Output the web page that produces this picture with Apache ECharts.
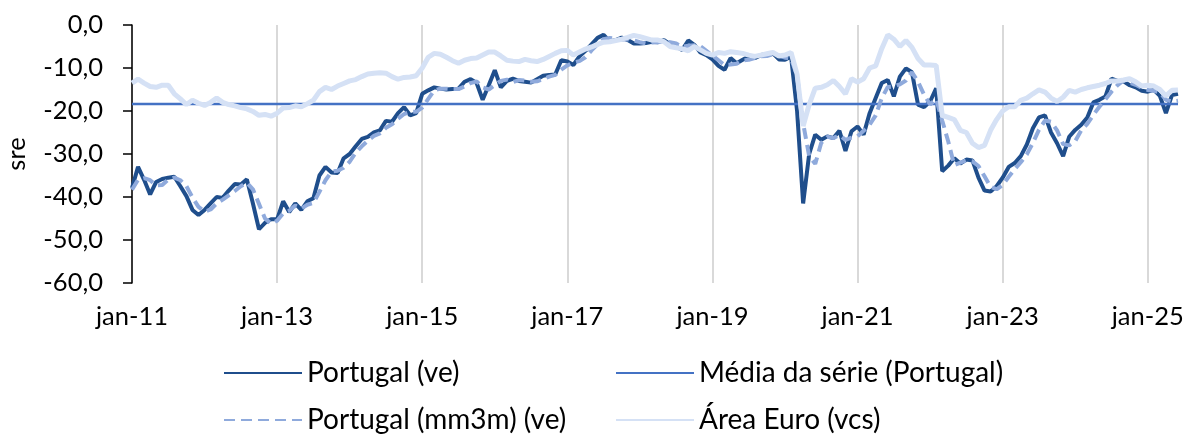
<!DOCTYPE html>
<html>
<head>
<meta charset="utf-8">
<script src="https://cdn.jsdelivr.net/npm/echarts@6/dist/echarts.min.js"></script>
<style>
  html, body { margin: 0; padding: 0; background: #fff; }
  #main { width: 1189px; height: 434px; }
</style>
</head>
<body>
<div id="main"></div>
<script>
// meses jan-11 .. jun-25
var monthNames = ['jan', 'fev', 'mar', 'abr', 'mai', 'jun', 'jul', 'ago', 'set', 'out', 'nov', 'dez'];
var firstYear = 2011;
var nMonths = 174;

// Portugal (ve)
var portugal = [
  -37.9, -33, -36, -39.4, -36.5, -35.8, -35.5, -35.3, -37.5, -39.8, -43, -44.2,
  -43, -41.5, -40, -40.2, -38.5, -37, -37.1, -35.9, -41.5, -47.5, -46, -45.2,
  -45.2, -41, -43.5, -41.5, -43, -41, -40.3, -35, -33, -34.3, -34.4, -31,
  -30, -28.2, -26.5, -26, -25, -24.5, -22.3, -22.5, -20.5, -19.1, -21, -20.5,
  -16, -15.2, -14.5, -14.8, -15, -14.9, -14.8, -13.2, -12.6, -13.5, -17.4, -14,
  -10.5, -14.5, -13, -12.5, -13, -13.2, -13.4, -12.6, -11.8, -11.6, -11.5, -8.2,
  -8.5, -9.3, -7.3, -6, -4.5, -3, -2.3, -3.8, -3.5, -2.9, -3.5, -4.3,
  -4.3, -4.2, -3.9, -4, -3.5, -4.5, -5, -5.8, -3.6, -4.6, -6.4, -7,
  -8, -9.5, -10.4, -7.7, -8.9, -8.1, -7.3, -7.7, -7, -6.8, -6.6, -8,
  -8.1, -7.3, -20, -41.5, -30, -25.5, -26.7, -25.9, -26.3, -24.6, -29.3, -24.7,
  -23.6, -25.5, -20.5, -17, -13.5, -12.8, -16.6, -12, -10.1, -11, -18.5, -19.1,
  -17.8, -14.7, -34, -32.7, -31, -32.2, -31.3, -31.5, -35.5, -38.5, -38.7, -37.5,
  -35.5, -33, -32.1, -30.5, -27.8, -24, -21.5, -21, -25, -27.5, -30.5, -26,
  -24.4, -23.2, -21.5, -18, -17.4, -16.6, -12.5, -13, -13.1, -14, -14.5, -15.3,
  -15.5, -15.1, -16.5, -20.5, -16.3, -16
];

// Portugal (mm3m) (ve)
var portugalMm3m = [
  -38.3, -36, -35.6, -36.1, -37.3, -37.2, -35.9, -35.5, -36.1, -37.5, -40.1, -42.3,
  -43.4, -42.9, -41.5, -40.6, -39.6, -38.6, -37.5, -36.7, -38.2, -41.6, -45, -46.2,
  -45.5, -43.8, -43.2, -42, -42.7, -41.8, -41.4, -38.8, -36.1, -34.1, -33.9, -33.2,
  -31.8, -29.7, -28.2, -26.9, -25.8, -25.2, -23.9, -23.1, -21.8, -20.7, -20.2, -20.2,
  -19.2, -17.2, -15.2, -14.8, -14.8, -14.9, -14.9, -14.3, -13.5, -13.1, -14.5, -15,
  -14, -13, -12.7, -13.3, -12.8, -12.9, -13.2, -13.1, -12.6, -12, -11.6, -10.4,
  -9.4, -8.7, -8.4, -7.5, -5.9, -4.5, -3.3, -3, -3.2, -3.4, -3.3, -3.6,
  -4, -4.3, -4.1, -4, -3.8, -4, -4.3, -5.1, -4.8, -4.7, -4.9, -6,
  -7.1, -8.2, -9.3, -9.2, -9, -8.2, -8.1, -7.7, -7.3, -7.2, -6.8, -7.1,
  -7.6, -7.8, -11.8, -22.9, -30.5, -32.3, -27.4, -26, -26.3, -25.6, -26.7, -26.2,
  -25.9, -24.6, -23.2, -21, -17, -14.4, -14.3, -13.8, -12.9, -11, -13.2, -16.2,
  -18.5, -17.2, -22.2, -27.1, -32.6, -32, -31.5, -31.7, -32.8, -35.2, -37.6, -38.2,
  -37.2, -35.3, -33.5, -31.9, -30.1, -27.4, -24.4, -22.2, -22.5, -24.5, -27.7, -28,
  -27, -24.5, -23, -20.9, -19, -17.3, -15.5, -14, -12.9, -13.4, -13.9, -14.6,
  -15.1, -15.3, -15.7, -17.4, -17.8, -17.6
];

// Área Euro (vcs)
var areaEuro = [
  -13.5, -12.6, -13.5, -14.3, -14.5, -14, -14, -16, -17.2, -18.5, -17.5, -18.2,
  -18.7, -18, -17, -18, -18.5, -18.8, -19.2, -19.5, -20.1, -21, -20.8, -21.2,
  -20.5, -19.3, -19.2, -18.8, -19, -18.3, -17.5, -15.5, -14.5, -15, -14.2, -13.6,
  -13, -12.7, -12, -11.4, -11.2, -11.1, -11.2, -12, -12.6, -12.2, -12.1, -11.8,
  -10, -7.5, -6.6, -6.8, -7.5, -8.3, -8.9, -8.2, -7.8, -7.7, -7, -6.3,
  -6.3, -7.2, -8.2, -8.4, -8.5, -8, -8.3, -8.5, -8, -7.3, -6.6, -6,
  -5.9, -7, -6.3, -5.6, -5.1, -4.5, -4, -3.9, -3.6, -3.3, -2.9, -2.4,
  -2.7, -3.1, -3.5, -3.5, -3.9, -5, -5.3, -5.5, -6, -5, -5.8, -6.6,
  -7, -6.4, -6.6, -6.2, -6.4, -6.6, -7, -7.3, -7, -6.7, -6.4, -7.2,
  -7, -6.4, -11.5, -23.5, -18.5, -14.7, -14.5, -13.9, -12.9, -14.3, -16, -12.5,
  -13.3, -12.5, -10, -9.5, -5.5, -2.3, -3.3, -5, -3.6, -5.2, -7.8, -9.3,
  -9.3, -9.4, -21, -21.5, -22, -24.5, -25, -27.5, -28.5, -28, -24.5, -22,
  -20, -19, -19, -17.5, -17, -16, -15.1, -15.6, -17, -17.8, -16.8, -15.2,
  -15.6, -15, -14.6, -14.3, -14, -13.6, -13, -13, -12.8, -12.5, -13.2, -14.2,
  -14, -14.2, -15, -16.5, -15.2, -15.1
];

// Média da série (Portugal)
var mediaPortugal = -18.4;

var yTicks = { min: -60, max: 0, interval: 10 };

var categories = [];
for (var i = 0; i < nMonths; i++) {
  var yy = firstYear + Math.floor(i / 12);
  categories.push(monthNames[i % 12] + '-' + String(yy).slice(2));
}
var mediaLine = categories.map(function () { return mediaPortugal; });

var FONT = 'Lato';
var myChart = echarts.init(document.getElementById('main'));

var legendBase = {
  orient: 'horizontal',
  itemWidth: 78,
  itemHeight: 14,
  padding: 0,
  itemStyle: { opacity: 0 },
  textStyle: { fontFamily: FONT, fontSize: 28, color: '#000' }
};

var option = {
  backgroundColor: '#fff',
  animation: false,
  grid: { left: 132, right: 11, top: 25, bottom: 151, outerBoundsMode: 'none', containLabel: false },
  legend: [
    Object.assign({}, legendBase, { left: 223, top: 359, data: ['Portugal (ve)'] }),
    Object.assign({}, legendBase, { left: 615, top: 359, data: ['Média da série (Portugal)'] }),
    Object.assign({}, legendBase, { left: 223, top: 406, data: ['Portugal (mm3m) (ve)'] }),
    Object.assign({}, legendBase, { left: 615, top: 406, data: ['Área Euro (vcs)'] })
  ],
  xAxis: {
    type: 'category',
    data: categories,
    boundaryGap: false,
    axisLine: { show: false },
    axisTick: { show: false },
    axisLabel: {
      interval: 23,
      margin: 21,
      fontFamily: FONT,
      fontSize: 25.5,
      color: '#000'
    },
    splitLine: {
      show: true,
      interval: 23,
      lineStyle: { color: '#d9d9d9', width: 2 }
    }
  },
  yAxis: {
    type: 'value',
    min: yTicks.min,
    max: yTicks.max,
    interval: yTicks.interval,
    name: 'sre',
    nameLocation: 'middle',
    nameGap: 102,
    nameRotate: 90,
    nameTextStyle: { fontFamily: FONT, fontSize: 25.5, color: '#000' },
    axisLine: { show: true, lineStyle: { color: '#000', width: 1.5 } },
    axisTick: { show: true, length: 9, lineStyle: { color: '#000', width: 1.5 } },
    splitLine: { show: false },
    axisLabel: {
      margin: 29,
      fontFamily: FONT,
      fontSize: 25.5,
      color: '#000',
      formatter: function (v) { return v.toFixed(1).replace('.', ','); }
    }
  },
  series: [
    {
      name: 'Portugal (ve)',
      type: 'line',
      data: portugal,
      showSymbol: false,
      symbol: 'none',
      color: '#1f4e8c',
      lineStyle: { color: '#1f4e8c', width: 4 },
      z: 2
    },
    {
      name: 'Média da série (Portugal)',
      type: 'line',
      data: mediaLine,
      showSymbol: false,
      symbol: 'none',
      color: '#4472c4',
      lineStyle: { color: '#4472c4', width: 2.5 },
      z: 3
    },
    {
      name: 'Portugal (mm3m) (ve)',
      type: 'line',
      data: portugalMm3m,
      showSymbol: false,
      symbol: 'none',
      color: '#8faadc',
      lineStyle: { color: '#8faadc', width: 4, type: [11, 6] },
      z: 4
    },
    {
      name: 'Área Euro (vcs)',
      type: 'line',
      data: areaEuro,
      showSymbol: false,
      symbol: 'none',
      color: '#d5e1f5',
      lineStyle: { color: '#d5e1f5', width: 5 },
      z: 5
    }
  ]
};

myChart.setOption(option);
</script>
</body>
</html>
